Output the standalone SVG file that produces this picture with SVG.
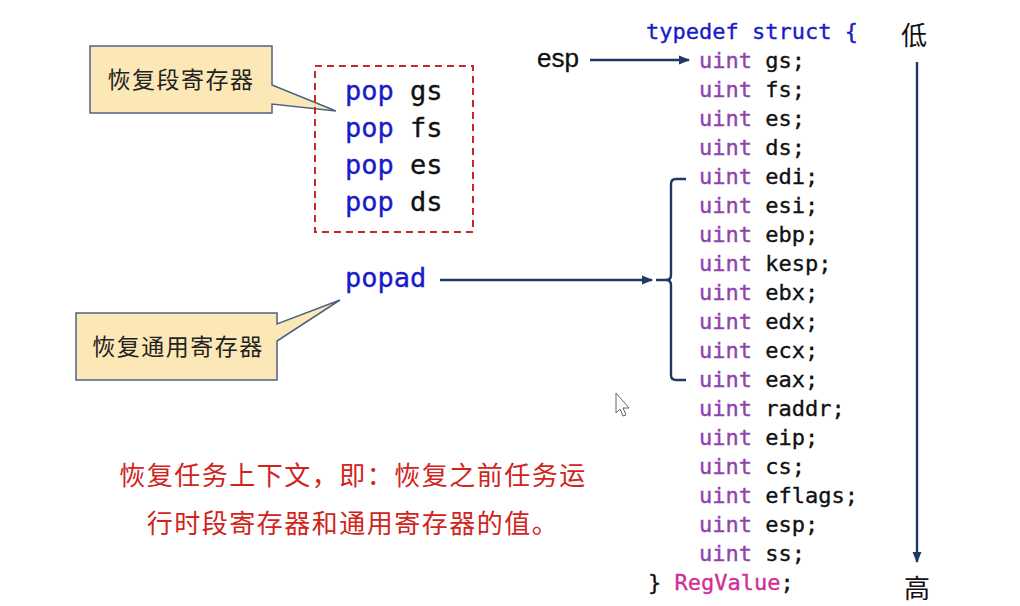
<svg xmlns="http://www.w3.org/2000/svg" width="1020" height="606" viewBox="0 0 1020 606">
<defs>
<style>
.cjk{font-family:"Noto Sans CJK SC","Microsoft YaHei",sans-serif;}
.mono{font-family:"DejaVu Sans Mono","Liberation Mono",monospace;}
.call{fill:#FCE8B6;stroke:#4F6285;stroke-width:1.5;}
.kw{fill:#1A1AC8;stroke:#1A1AC8;stroke-width:0.35;}
.ty{fill:#8E44AD;stroke:#8E44AD;stroke-width:0.35;}
.nm{fill:#111;stroke:#111;stroke-width:0.35;}
.conn{stroke:#1F3864;stroke-width:2.4;fill:none;}
</style>
<marker id="ah" viewBox="0 0 10 10" refX="9" refY="5" markerWidth="4.8" markerHeight="4.8" markerUnits="strokeWidth" orient="auto">
<path d="M0,1 L10,5 L0,9 z" fill="#1F3864"/>
</marker>
</defs>
<rect width="1020" height="606" fill="#ffffff"/>

<g id="callout-seg">
<path class="call" d="M90,46 H272 V85 L336,111 L272,104 V113 H90 Z"/>
<text class="cjk" x="181" y="88" font-size="23" letter-spacing="1.5" text-anchor="middle" fill="#222">恢复段寄存器</text>
</g>

<g id="pop-seg">
<rect x="315" y="66" width="158" height="166" fill="none" stroke="#C62828" stroke-width="2" stroke-dasharray="7,5"/>
<g class="mono" font-size="27">
<text x="345" y="100"><tspan class="kw">pop</tspan><tspan class="nm"> gs</tspan></text>
<text x="345" y="137"><tspan class="kw">pop</tspan><tspan class="nm"> fs</tspan></text>
<text x="345" y="174"><tspan class="kw">pop</tspan><tspan class="nm"> es</tspan></text>
<text x="345" y="211"><tspan class="kw">pop</tspan><tspan class="nm"> ds</tspan></text>
</g>
</g>

<g id="popad">
<text class="mono kw" x="345" y="287" font-size="27">popad</text>
</g>

<g id="callout-gen">
<path class="call" d="M76,313 H277 V324 L340,300 L277,341 V380 H76 Z"/>
<text class="cjk" x="178" y="355" font-size="23" letter-spacing="1.5" text-anchor="middle" fill="#222">恢复通用寄存器</text>
</g>

<g id="esp-label">
<text x="537" y="67" font-family="Liberation Sans, Arial, sans-serif" font-size="26" fill="#111" stroke="#111" stroke-width="0.3">esp</text>
</g>

<g id="struct" class="mono" font-size="22">
<text x="646" y="39" class="kw">typedef struct {</text>
<text x="699" y="68"><tspan class="ty">uint</tspan><tspan class="nm"> gs;</tspan></text>
<text x="699" y="97"><tspan class="ty">uint</tspan><tspan class="nm"> fs;</tspan></text>
<text x="699" y="126"><tspan class="ty">uint</tspan><tspan class="nm"> es;</tspan></text>
<text x="699" y="155"><tspan class="ty">uint</tspan><tspan class="nm"> ds;</tspan></text>
<text x="699" y="184"><tspan class="ty">uint</tspan><tspan class="nm"> edi;</tspan></text>
<text x="699" y="213"><tspan class="ty">uint</tspan><tspan class="nm"> esi;</tspan></text>
<text x="699" y="242"><tspan class="ty">uint</tspan><tspan class="nm"> ebp;</tspan></text>
<text x="699" y="271"><tspan class="ty">uint</tspan><tspan class="nm"> kesp;</tspan></text>
<text x="699" y="300"><tspan class="ty">uint</tspan><tspan class="nm"> ebx;</tspan></text>
<text x="699" y="329"><tspan class="ty">uint</tspan><tspan class="nm"> edx;</tspan></text>
<text x="699" y="358"><tspan class="ty">uint</tspan><tspan class="nm"> ecx;</tspan></text>
<text x="699" y="387"><tspan class="ty">uint</tspan><tspan class="nm"> eax;</tspan></text>
<text x="699" y="416"><tspan class="ty">uint</tspan><tspan class="nm"> raddr;</tspan></text>
<text x="699" y="445"><tspan class="ty">uint</tspan><tspan class="nm"> eip;</tspan></text>
<text x="699" y="474"><tspan class="ty">uint</tspan><tspan class="nm"> cs;</tspan></text>
<text x="699" y="503"><tspan class="ty">uint</tspan><tspan class="nm"> eflags;</tspan></text>
<text x="699" y="532"><tspan class="ty">uint</tspan><tspan class="nm"> esp;</tspan></text>
<text x="699" y="561"><tspan class="ty">uint</tspan><tspan class="nm"> ss;</tspan></text>
<text x="648" y="590"><tspan class="nm">}</tspan><tspan fill="#D12E96" stroke="#D12E96" stroke-width="0.35"> RegValue</tspan><tspan class="nm">;</tspan></text>
</g>

<g id="low-high" class="cjk" font-size="26" fill="#111">
<text x="914" y="45" text-anchor="middle">低</text>
<text x="917" y="598" text-anchor="middle">高</text>
</g>

<g id="note" class="cjk" font-size="26" fill="#D0241C" text-anchor="middle" letter-spacing="1.5">
<text x="353" y="485">恢复任务上下文，即：恢复之前任务运</text>
<text x="353" y="533">行时段寄存器和通用寄存器的值。</text>
</g>

<g id="connectors">
<line class="conn" x1="590" y1="60" x2="689" y2="60" marker-end="url(#ah)"/>
<line class="conn" x1="440" y1="280" x2="652" y2="280" marker-end="url(#ah)"/>
<path class="conn" d="M686,179 H676 Q671,179 671,184 V275 Q671,280 666,280 H656 M666,280 Q671,280 671,285 V375 Q671,380 676,380 H686"/>
<line class="conn" x1="917" y1="62" x2="917" y2="562" marker-end="url(#ah)"/>
</g>

<g id="cursor">
<path d="M616,393 L616,413 L620,409 L623,416 L626,415 L623,408 L629,408 Z" fill="#fff" stroke="#666" stroke-width="1"/>
</g>
</svg>
